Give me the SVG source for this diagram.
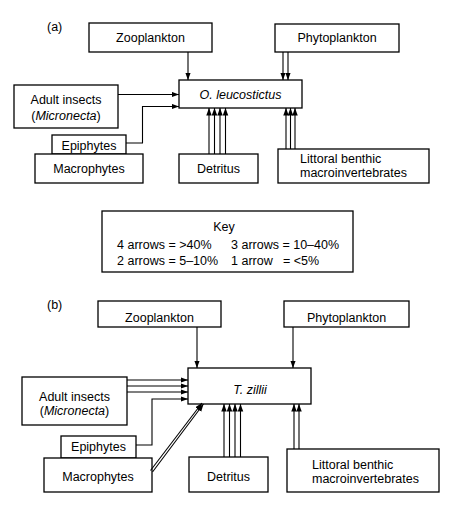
<svg xmlns="http://www.w3.org/2000/svg" width="450" height="507" viewBox="0 0 450 507">
<style>
.box{fill:#fff;stroke:#000;stroke-width:1.3}
text{font-family:"Liberation Sans",Arial,sans-serif;font-size:12.5px;fill:#000}
.c{text-anchor:middle}
.i{font-style:italic}
.ln{fill:none;stroke:#000;stroke-width:1.1}
</style>
<defs>
<marker id="ah" markerUnits="userSpaceOnUse" markerWidth="8" markerHeight="6" refX="7.5" refY="2.75" orient="auto">
<path d="M0,0 L7.5,2.75 L0,5.5 z" fill="#000"/>
</marker>
</defs>
<rect width="450" height="507" fill="#fff"/>

<text x="47" y="31">(a)</text>
<g id="a-zooplankton"><rect class="box" x="89" y="23" width="123" height="29"/><text class="c" x="150.5" y="41.5">Zooplankton</text></g>
<g id="a-phytoplankton"><rect class="box" x="275" y="24" width="124" height="28"/><text class="c" x="337" y="41.5">Phytoplankton</text></g>
<g id="a-fish"><rect class="box" x="179" y="80" width="123" height="28"/><text class="c i" x="240.5" y="98.5">O. leucostictus</text></g>
<g id="a-adult"><rect class="box" x="14" y="85" width="104" height="43"/><text class="c" x="66" y="103.5">Adult insects</text><text class="c" x="66" y="120">(<tspan class="i">Micronecta</tspan>)</text></g>
<g id="a-epiphytes"><rect class="box" x="52" y="135" width="74" height="19"/><text class="c" x="89" y="149.5">Epiphytes</text></g>
<g id="a-macrophytes"><rect class="box" x="35" y="154" width="108" height="29"/><text class="c" x="89" y="172.5">Macrophytes</text></g>
<g id="a-detritus"><rect class="box" x="179" y="154" width="79" height="29"/><text class="c" x="218.5" y="172.5">Detritus</text></g>
<g id="a-littoral"><rect class="box" x="278" y="149" width="151" height="34"/><text x="300" y="162.5">Littoral benthic</text><text x="300" y="177">macroinvertebrates</text></g>

<g id="key"><rect class="box" x="102" y="211" width="251" height="61"/>
<text class="c" x="224" y="230.5">Key</text>
<text x="117" y="249">4 arrows = &gt;40%</text>
<text x="231" y="249">3 arrows = 10–40%</text>
<text x="117" y="264.5">2 arrows = 5–10%</text>
<text x="231" y="264.5">1 arrow</text>
<text x="283" y="264.5">= &lt;5%</text>
</g>

<text x="47" y="309">(b)</text>
<g id="b-zooplankton"><rect class="box" x="98" y="301" width="123" height="26"/><text class="c" x="159.5" y="322">Zooplankton</text></g>
<g id="b-phytoplankton"><rect class="box" x="284" y="301" width="125" height="26"/><text class="c" x="346.5" y="322">Phytoplankton</text></g>
<g id="b-fish"><rect class="box" x="188" y="368" width="123" height="36"/><text class="c i" x="250" y="394">T. zillii</text></g>
<g id="b-adult"><rect class="box" x="22" y="377" width="105" height="48"/><text class="c" x="74.5" y="400.5">Adult insects</text><text class="c" x="74.5" y="414.5">(<tspan class="i">Micronecta</tspan>)</text></g>
<g id="b-epiphytes"><rect class="box" x="61" y="436" width="75" height="22"/><text class="c" x="98.5" y="450.5">Epiphytes</text></g>
<g id="b-macrophytes"><rect class="box" x="44" y="458" width="108" height="34"/><text class="c" x="98" y="480.5">Macrophytes</text></g>
<g id="b-detritus"><rect class="box" x="189" y="457" width="79" height="35"/><text class="c" x="228.5" y="480.5">Detritus</text></g>
<g id="b-littoral"><rect class="box" x="287" y="449" width="152" height="43"/><text x="312" y="469">Littoral benthic</text><text x="312" y="482.5">macroinvertebrates</text></g>

<g id="connectors" class="ln" marker-end="url(#ah)">
<path class="ln" marker-end="url(#ah)" d="M188,52 V80"/>
<path class="ln" marker-end="url(#ah)" d="M283,52 V80"/>
<path class="ln" marker-end="url(#ah)" d="M288,52 V80"/>
<path class="ln" marker-end="url(#ah)" d="M118,94.5 H179"/>
<path class="ln" marker-end="url(#ah)" d="M126,143 H142.5 V106.5 H179"/>
<path class="ln" marker-end="url(#ah)" d="M209,154 V108"/>
<path class="ln" marker-end="url(#ah)" d="M214.5,154 V108"/>
<path class="ln" marker-end="url(#ah)" d="M220,154 V108"/>
<path class="ln" marker-end="url(#ah)" d="M225.5,154 V108"/>
<path class="ln" marker-end="url(#ah)" d="M286,149 V108"/>
<path class="ln" marker-end="url(#ah)" d="M290.5,149 V108"/>
<path class="ln" marker-end="url(#ah)" d="M295,149 V108"/>

<path class="ln" marker-end="url(#ah)" d="M197,327 V368"/>
<path class="ln" marker-end="url(#ah)" d="M293,327 V368"/>
<path class="ln" marker-end="url(#ah)" d="M127,380 H188"/>
<path class="ln" marker-end="url(#ah)" d="M127,386 H188"/>
<path class="ln" marker-end="url(#ah)" d="M127,392 H188"/>
<path class="ln" marker-end="url(#ah)" d="M136,445 H152 V399 H188"/>
<path class="ln" marker-end="url(#ah)" d="M150.5,470.5 L202,403"/>
<path class="ln" marker-end="url(#ah)" d="M152.5,472 L203.5,404"/>
<path class="ln" marker-end="url(#ah)" d="M224,457 V404"/>
<path class="ln" marker-end="url(#ah)" d="M229.5,457 V404"/>
<path class="ln" marker-end="url(#ah)" d="M235,457 V404"/>
<path class="ln" marker-end="url(#ah)" d="M240.5,457 V404"/>
<path class="ln" marker-end="url(#ah)" d="M294,449 V404"/>
<path class="ln" marker-end="url(#ah)" d="M299,449 V404"/>
</g>
</svg>
